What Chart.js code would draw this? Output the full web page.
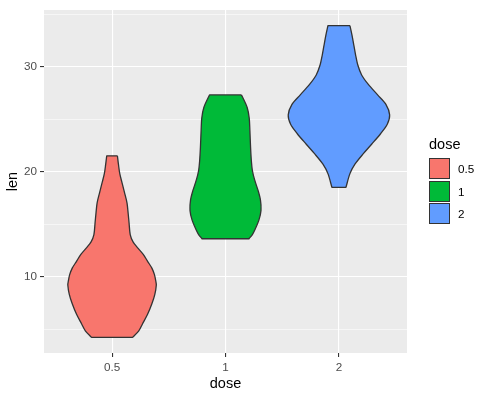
<!DOCTYPE html>
<html>
<head>
<meta charset="utf-8">
<script src="https://cdn.jsdelivr.net/npm/chart.js@4.4.1/dist/chart.umd.min.js"></script>
<style>
  html, body { margin: 0; padding: 0; background: #fff; }
  #wrap { position: relative; width: 490px; height: 398px; font-family: "Liberation Sans", Arial, sans-serif; }
  #legend { position: absolute; left: 429px; top: 136px; }
  .lg-title { font-size: 14.5px; line-height: 17px; height: 21.5px; color: #000; }
  .lg-row { display: flex; align-items: center; height: 22.5px; }
  .lg-key { width: 21px; height: 21px; box-sizing: border-box; border: 1.2px solid #333; }
  .lg-label { margin-left: 8px; font-size: 11.7px; color: #000; }
</style>
</head>
<body>
<div id="wrap">
  <canvas id="violinChart"></canvas>
  <div id="legend"></div>
</div>
<script>
const doses = ['0.5', '1', '2'];
const fills = ['#F8766D', '#00BA38', '#619CFF'];

// violin outlines: len level -> half width (in category units)
const len05 = [21.5, 20.7, 19.8, 18.8, 17.9, 17.0, 16.0, 15.1, 14.0, 13.3, 12.7, 12.1, 11.4, 10.8, 10.2, 9.6, 9.2, 8.3, 7.4, 6.4, 5.5, 4.8, 4.2];
const half05 = [0.047, 0.056, 0.068, 0.091, 0.112, 0.132, 0.142, 0.150, 0.160, 0.185, 0.228, 0.275, 0.316, 0.351, 0.373, 0.385, 0.390, 0.377, 0.351, 0.313, 0.269, 0.234, 0.180];
const len1 = [27.3, 26.1, 25.1, 23.9, 22.3, 21.0, 20.1, 19.2, 18.2, 17.3, 16.3, 15.4, 14.4, 14.0, 13.6];
const half1 = [0.141, 0.191, 0.209, 0.215, 0.221, 0.228, 0.237, 0.257, 0.287, 0.308, 0.313, 0.295, 0.257, 0.237, 0.207];
const len2 = [33.9, 33.0, 32.0, 31.1, 30.2, 29.2, 28.3, 27.3, 26.4, 25.4, 24.5, 23.6, 22.6, 21.7, 20.7, 19.8, 18.5];
const half2 = [0.097, 0.115, 0.132, 0.147, 0.165, 0.200, 0.259, 0.341, 0.414, 0.447, 0.426, 0.367, 0.288, 0.215, 0.141, 0.097, 0.062];

const yTicks = [10, 20, 30];
const yMinor = [5, 15, 25, 35];

const lens = [len05, len1, len2];
const halves = [half05, half1, half2];

// walk down the right side, across the bottom, up the left side and back across the top.
// corners are repeated so the flat ends stay flat with tension on
function outline(pos, ys, ws) {
  const right = ys.map((y, i) => ({x: pos + ws[i], y: y}));
  const left = ys.map((y, i) => ({x: pos - ws[i], y: y})).reverse();
  const r = right.length - 1;
  const l = left.length - 1;
  return [...right, right[r], left[0], ...left, left[l], right[0]];
}

const panelBg = {
  id: 'panelBg',
  beforeDraw(chart) {
    const {ctx, chartArea: a} = chart;
    ctx.save();
    ctx.fillStyle = '#EBEBEB';
    ctx.fillRect(a.left, a.top, a.right - a.left, a.bottom - a.top);
    ctx.restore();
  }
};

Chart.defaults.font.family = '"Liberation Sans", Arial, sans-serif';

const ctx = document.getElementById('violinChart').getContext('2d');
new Chart(ctx, {
  type: 'scatter',
  data: {
    datasets: doses.map((d, i) => ({
      label: d,
      data: outline(i + 1, lens[i], halves[i]),
      showLine: true,
      fill: 'shape',
      backgroundColor: fills[i],
      borderColor: '#333333',
      borderWidth: 1.3,
      borderJoinStyle: 'round',
      pointRadius: 0,
      pointHoverRadius: 0,
      tension: 0.3
    }))
  },
  options: {
    responsive: true,
    maintainAspectRatio: false,
    animation: false,
    layout: { padding: { top: 8, right: 83, left: 0, bottom: 0 } },
    plugins: {
      legend: { display: false },
      tooltip: { enabled: false }
    },
    scales: {
      x: {
        type: 'linear',
        min: 0.4,
        max: 3.6,
        afterBuildTicks: s => { s.ticks = doses.map((d, i) => ({value: i + 1})); },
        afterFit: s => { s.height = 45; },
        ticks: {
          callback: v => doses[v - 1],
          color: '#4D4D4D',
          font: { size: 11.7 },
          padding: 4,
          autoSkip: false,
          maxRotation: 0
        },
        grid: { color: '#FFFFFF', lineWidth: 1.1, tickColor: '#333333', tickLength: 4, tickWidth: 1.1 },
        border: { display: false },
        title: { display: true, text: 'dose', color: '#000', font: { size: 14.5 }, padding: { top: 0, bottom: 5 } }
      },
      y: {
        min: 2.715,
        max: 35.385,
        afterBuildTicks: s => { s.ticks = [...yTicks, ...yMinor].sort((a, b) => a - b).map(v => ({value: v})); },
        afterFit: s => { s.width = 44; },
        ticks: {
          callback: v => yTicks.includes(v) ? String(v) : '',
          color: '#4D4D4D',
          font: { size: 11.7 },
          padding: 3
        },
        grid: {
          color: '#FFFFFF',
          lineWidth: c => yTicks.includes(c.tick.value) ? 1.1 : 0.55,
          tickColor: c => yTicks.includes(c.tick.value) ? '#333333' : 'rgba(0,0,0,0)',
          tickLength: 4,
          tickWidth: 1.1
        },
        border: { display: false },
        title: { display: true, text: 'len', color: '#000', font: { size: 14.5 }, padding: { top: 4.5, bottom: 0 } }
      }
    }
  },
  plugins: [panelBg]
});

// legend in the ggplot style
const legend = document.getElementById('legend');
legend.innerHTML = '<div class="lg-title">dose</div>' + doses.map((d, i) =>
  '<div class="lg-row"><span class="lg-key" style="background:' + fills[i] + '"></span><span class="lg-label">' + d + '</span></div>'
).join('');
</script>
</body>
</html>
